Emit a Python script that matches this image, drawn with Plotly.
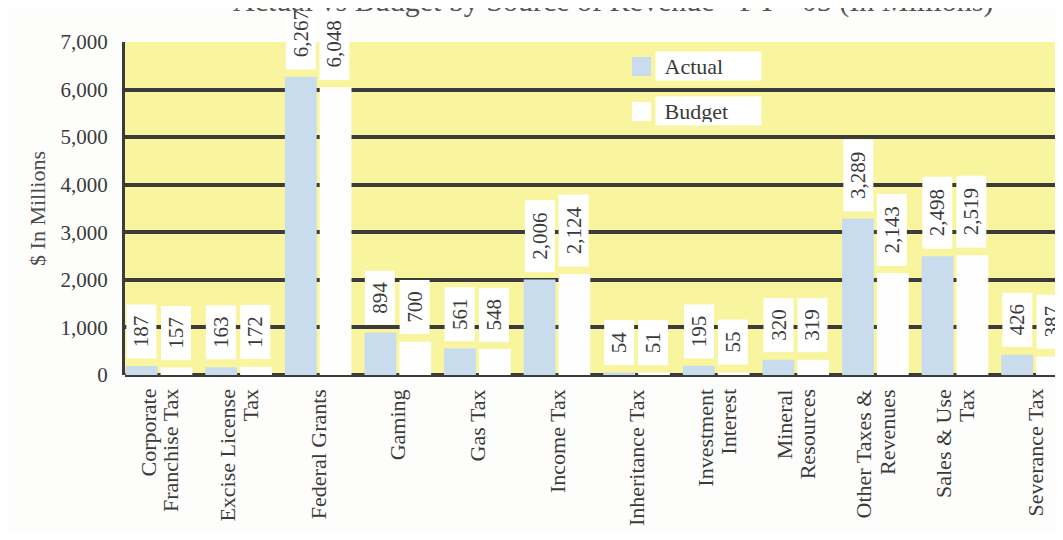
import plotly.graph_objects as go

categories = [
    "Corporate<br>Franchise Tax", "Excise License<br>Tax", "Federal Grants", "Gaming",
    "Gas Tax", "Income Tax", "Inheritance Tax", "Investment<br>Interest",
    "Mineral<br>Resources", "Other Taxes &<br>Revenues", "Sales & Use<br>Tax", "Severance Tax",
]
actual = [187, 163, 6267, 894, 561, 2006, 54, 195, 320, 3289, 2498, 426]
budget = [157, 172, 6048, 700, 548, 2124, 51, 55, 319, 2143, 2519, 387]
y_ticks = [0, 1000, 2000, 3000, 4000, 5000, 6000, 7000]
y_tick_labels = ["0", "1,000", "2,000", "3,000", "4,000", "5,000", "6,000", "7,000"]
title_text = "Actual vs Budget by Source of Revenue - FY - 05 (In Millions)"

SERIF = "Liberation Serif, Times New Roman, serif"
TXT = "#3a3a3a"
GRID = "#3b3b3b"
YELLOW = "#f8f59e"
BLUE = "#c9dcee"
WHITE = "#fefefe"

# page has an 8px body margin, so the figure is offset by 8px
W, H = 1055, 524
ML, MT = 117, 34
PH = 333
MB = H - MT - PH
PW = W - ML


def px_x(x):  # window pixel -> paper
    return (x - 8 - ML) / PW


def px_y(y):
    return (H - MB - (y - 8)) / PH


fig = go.Figure()
fig.add_trace(go.Bar(name="Actual", x=categories, y=actual, marker=dict(color=BLUE, line=dict(width=0))))
fig.add_trace(go.Bar(name="Budget", x=categories, y=budget, marker=dict(color=WHITE, line=dict(width=0))))

annotations = []
for cat, a, b in zip(categories, actual, budget):
    for val, shift in ((a, -17.5), (b, 16.5)):
        s = f"{val:,}"
        annotations.append(dict(
            x=cat, y=val, xref="x", yref="y", text=s, textangle=-90,
            xanchor="center", yanchor="bottom", yshift=7, xshift=shift,
            showarrow=False, bgcolor="white", borderpad=0,
            width=9 * len(s) + 26, height=29,
            font=dict(family=SERIF, size=21, color=TXT),
        ))
    # category label: lines set close together and centred, as in the original
    lines = cat.split("<br>")
    n = len(lines)
    for j, line in enumerate(lines):
        annotations.append(dict(
            x=cat, y=0, xref="x", yref="y", text=line, textangle=-90,
            xanchor="center", yanchor="top", yshift=-12,
            xshift=(j - (n - 1) / 2) * 23,
            showarrow=False, font=dict(family=SERIF, size=22, color=TXT),
        ))

# title (partly cut at top, as in the scan)
annotations.append(dict(
    x=px_x(613), y=1, xref="paper", yref="paper", text=title_text,
    xanchor="center", yanchor="middle", yshift=MT + 8 - 1, showarrow=False,
    font=dict(family=SERIF, size=30, color="#555555"),
))

# custom legend
for name, yc in (("Actual", 66), ("Budget", 111)):
    annotations.append(dict(
        x=px_x(655), y=px_y(yc), xref="paper", yref="paper",
        text="&nbsp;" + name, xanchor="left", yanchor="middle", showarrow=False,
        align="left", width=99, height=22, borderpad=3, bgcolor="white",
        font=dict(family=SERIF, size=22, color=TXT),
    ))

shapes = []
for color, y0p, y1p in ((BLUE, 57, 76), (WHITE, 102, 121)):
    shapes.append(dict(
        type="rect", xref="paper", yref="paper",
        x0=px_x(632), x1=px_x(651), y0=px_y(y1p), y1=px_y(y0p),
        fillcolor=color, line=dict(width=0), layer="above",
    ))

step = 79.6
fig.update_layout(
    width=W, height=H,
    margin=dict(l=ML, r=0, t=MT, b=MB, autoexpand=False),
    paper_bgcolor="#fdfdfb", plot_bgcolor=YELLOW,
    barmode="group", bargap=0.125, bargroupgap=0.086,
    showlegend=False,
    annotations=annotations, shapes=shapes,
    font=dict(family=SERIF, color=TXT),
)
fig.update_xaxes(
    range=[-(159 - 125) / step, (1063 - 159) / step], showgrid=False,
    showticklabels=False, ticks="", showline=False, automargin=False,
)
fig.update_yaxes(
    range=[0, 7000], tickvals=y_ticks, ticktext=y_tick_labels,
    showgrid=True, gridcolor=GRID, gridwidth=4,
    zeroline=True, zerolinecolor=GRID, zerolinewidth=4,
    showline=True, linecolor=GRID, linewidth=3,
    tickfont=dict(family=SERIF, size=21, color=TXT),
    ticks="", ticklabelstandoff=10, automargin=False,
    title=dict(text="$ In Millions", font=dict(family=SERIF, size=22, color="#4a4a4a"), standoff=9),
)

fig.write_html("out.html")
